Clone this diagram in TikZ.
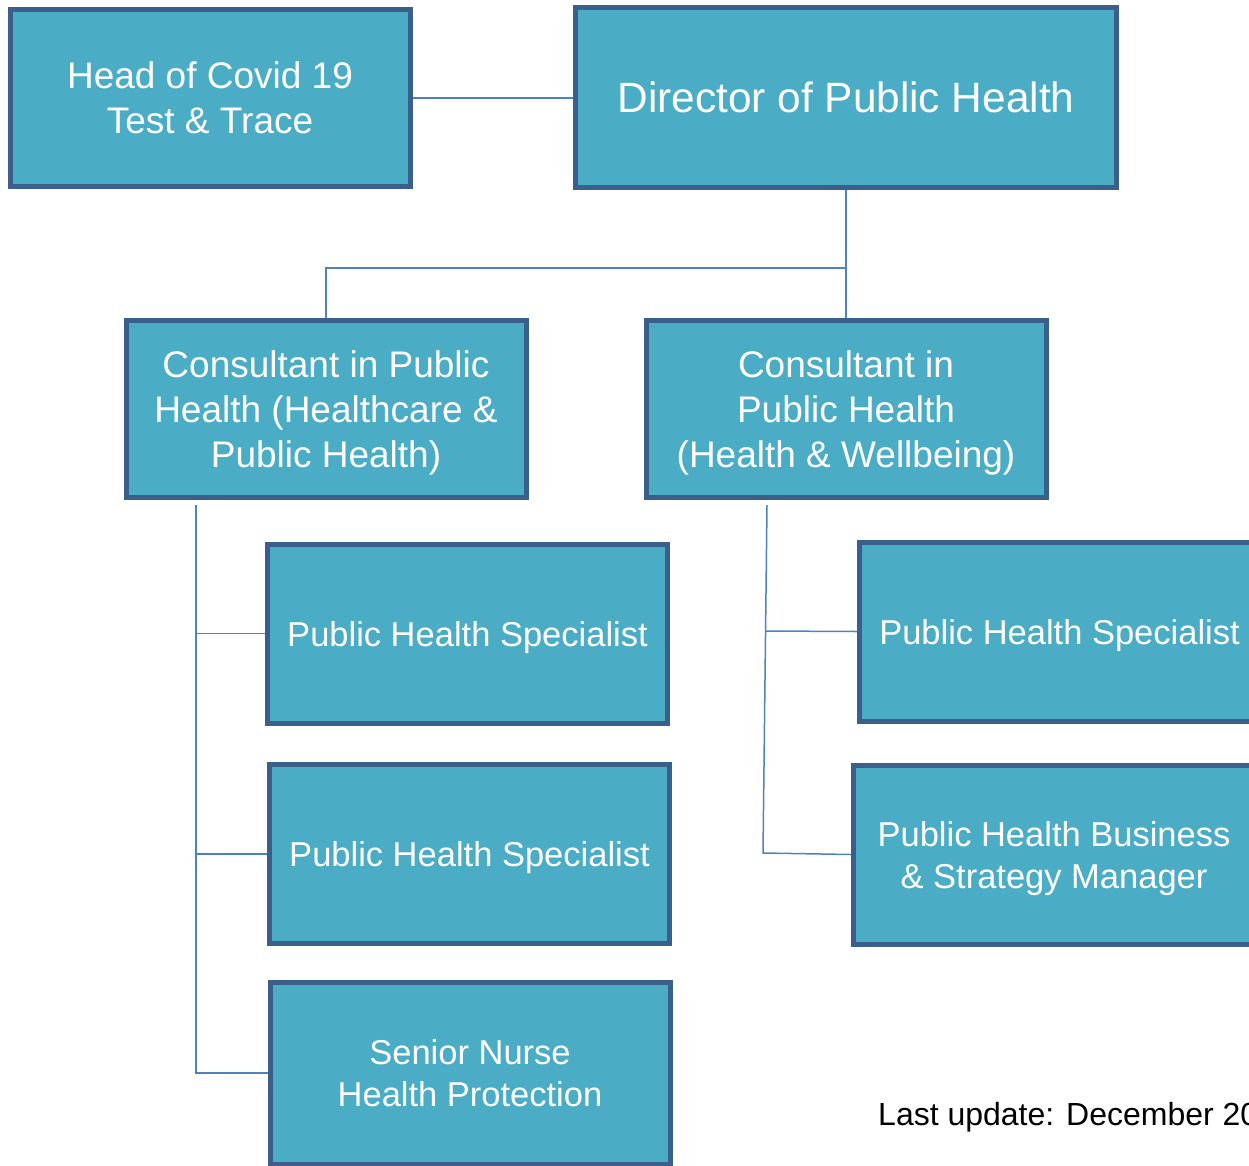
\documentclass[tikz,border=0pt]{standalone}
\usepackage{fontspec}
\setmainfont{Liberation Sans}
\usetikzlibrary{positioning}
\definecolor{boxfill}{HTML}{4BACC6}
\definecolor{boxline}{HTML}{3A5F8B}
\definecolor{linkline}{HTML}{4F81BD}
\tikzset{
  role/.style={draw=boxline,fill=boxfill,line width=5pt,text=white,align=center,inner sep=0pt,
    text depth=0pt,minimum width=400pt,minimum height=179pt,font=\fontsize{34.5}{42}\selectfont},
  bigrole/.style={role,font=\fontsize{37}{45}\selectfont},
  link/.style={draw=linkline,line width=1.5pt},
}
\begin{document}
\begin{tikzpicture}[x=1pt,y=-1pt]
\useasboundingbox(0,0)rectangle(1249,1165);
\clip(0,0)rectangle(1249,1165);
%top row
\node[bigrole,minimum height=177pt](head)at(210,98){Head of Covid 19\\Test \& Trace};
\node[role,minimum width=541pt,minimum height=180pt,font=\fontsize{42.4}{50}\selectfont](director)at(846,97.5){Director of Public Health};
%consultants
\node[bigrole,minimum height=177pt](consL)at(326,409){Consultant in Public\\Health (Healthcare \&\\Public Health)};
\node[bigrole,minimum height=177pt](consR)at(846,409){Consultant in\\Public Health\\(Health \& Wellbeing)};
%left column
\node[role](phsL1)at(467.5,633.5){Public Health Specialist};
\node[role](phsL2)at(469.5,854){Public Health Specialist};
\node[role,minimum height=182pt](nurse)at(470,1073){Senior Nurse\\Health Protection};
%right column
\node[role](phsR)at(1059.5,631.5){Public Health Specialist};
\node[role,minimum width=401pt](business)at(1054,854.5){Public Health Business\\\& Strategy Manager};
%note
\node[anchor=west,inner sep=0pt,font=\fontsize{32}{38}\selectfont](update)at(878,1117){Last update: December 20};
%links
\coordinate(fork)at(846,268);
\coordinate(railL)at(196,505);
\coordinate(railLend)at(196,1073);
\coordinate(railR)at(767,505);
\coordinate(railRmid)at(766,631);
\coordinate(railRend)at(763,853);
\draw[link](head.east)--(head.east-|director.west);
\draw[link](director.south)--(fork)-|(consL.north);
\draw[link](fork)--(consR.north);
\draw[link](railL)--(railLend)--(nurse.west);
\draw[link](phsL1.west-|railL)--(phsL1.west);
\draw[link](phsL2.west-|railL)--(phsL2.west);
\draw[link](railR)--(railRend)--(business.west);
\draw[link](railRmid)--(phsR.west);
\end{tikzpicture}
\end{document}
